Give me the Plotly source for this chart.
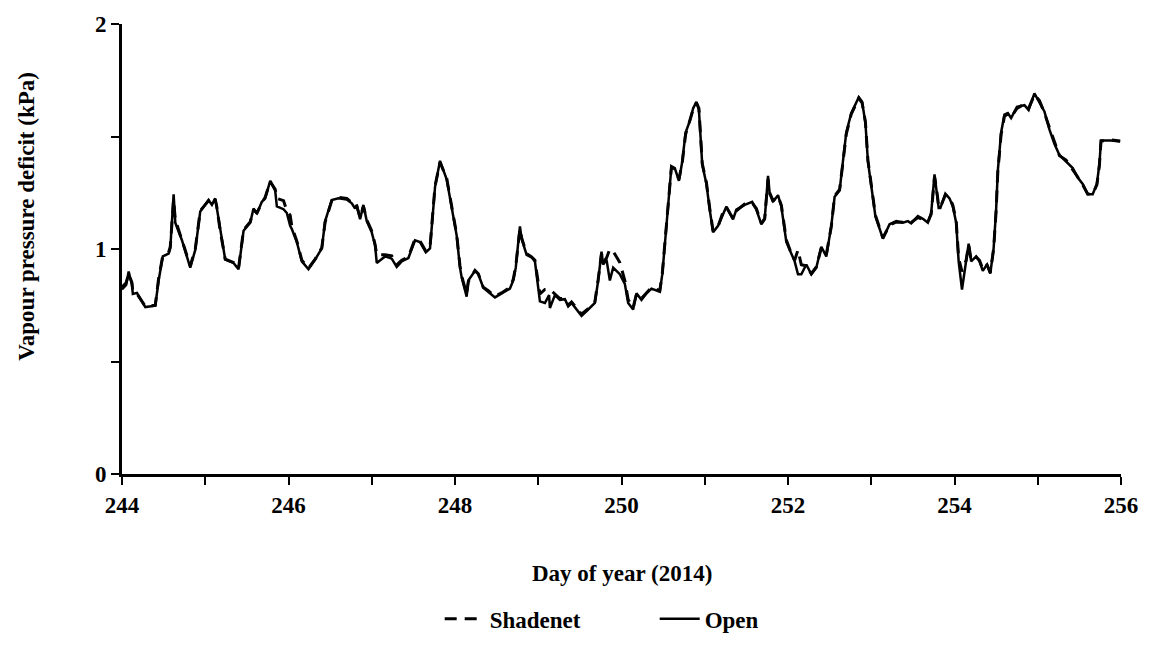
import plotly.graph_objects as go

# Day of year (2014)
days = [244.00, 244.05, 244.08, 244.12, 244.13, 244.18, 244.28, 244.40, 244.44, 244.49,
        244.56, 244.58, 244.62, 244.64, 244.72, 244.82, 244.88, 244.94, 245.04, 245.08,
        245.12, 245.14, 245.18, 245.24, 245.34, 245.40, 245.46, 245.54, 245.58, 245.62,
        245.68, 245.72, 245.78, 245.84, 245.86, 245.94, 245.98, 246.02, 246.04, 246.10,
        246.16, 246.24, 246.32, 246.40, 246.44, 246.52, 246.60, 246.70, 246.76, 246.80,
        246.82, 246.86, 246.90, 246.94, 247.00, 247.04, 247.06, 247.16, 247.24, 247.30,
        247.36, 247.44, 247.52, 247.58, 247.65, 247.70, 247.76, 247.82, 247.90, 247.98,
        248.02, 248.06, 248.08, 248.14, 248.16, 248.24, 248.28, 248.34, 248.40, 248.48,
        248.56, 248.66, 248.70, 248.73, 248.76, 248.78, 248.80, 248.86, 248.92, 248.96,
        249.02, 249.08, 249.13, 249.14, 249.20, 249.26, 249.32, 249.36, 249.40, 249.52,
        249.60, 249.68, 249.72, 249.76, 249.78, 249.82, 249.86, 249.90, 249.98, 250.04,
        250.08, 250.14, 250.18, 250.24, 250.30, 250.36, 250.46, 250.49, 250.53, 250.57,
        250.60, 250.64, 250.69, 250.73, 250.77, 250.82, 250.86, 250.90, 250.93, 250.97,
        251.02, 251.06, 251.10, 251.16, 251.22, 251.26, 251.34, 251.38, 251.48, 251.57,
        251.62, 251.68, 251.72, 251.76, 251.78, 251.82, 251.88, 251.92, 251.98, 252.04,
        252.08, 252.12, 252.16, 252.22, 252.28, 252.34, 252.40, 252.46, 252.52, 252.56,
        252.62, 252.66, 252.70, 252.76, 252.82, 252.85, 252.89, 252.93, 252.96, 253.00,
        253.05, 253.14, 253.22, 253.30, 253.38, 253.44, 253.48, 253.56, 253.62, 253.68,
        253.72, 253.76, 253.78, 253.81, 253.83, 253.89, 253.94, 253.98, 254.02, 254.05,
        254.09, 254.14, 254.17, 254.20, 254.26, 254.30, 254.34, 254.39, 254.43, 254.47,
        254.50, 254.52, 254.56, 254.60, 254.64, 254.68, 254.75, 254.84, 254.89, 254.96,
        255.02, 255.08, 255.14, 255.20, 255.26, 255.34, 255.42, 255.48, 255.54, 255.60,
        255.66, 255.71, 255.74, 255.76, 255.88, 255.99]

# Vapour pressure deficit (kPa) - open field
open_vpd = [0.82, 0.84, 0.90, 0.84, 0.80, 0.805, 0.742, 0.748, 0.86, 0.967,
            0.98, 1.003, 1.243, 1.117, 1.039, 0.917, 0.996, 1.167, 1.218, 1.196,
            1.225, 1.18, 1.074, 0.953, 0.938, 0.91, 1.081, 1.117, 1.18, 1.157,
            1.21, 1.225, 1.303, 1.26, 1.189, 1.177, 1.16, 1.103, 1.089, 1.031,
            0.945, 0.91, 0.953, 1.003, 1.124, 1.218, 1.225, 1.22, 1.203, 1.18,
            1.196, 1.132, 1.196, 1.124, 1.074, 1.017, 0.938, 0.967, 0.957, 0.92,
            0.945, 0.96, 1.039, 1.031, 0.986, 1.003, 1.275, 1.392, 1.31, 1.146,
            1.06, 0.917, 0.874, 0.788, 0.86, 0.903, 0.888, 0.828, 0.81, 0.785,
            0.803, 0.824, 0.86, 0.917, 1.031, 1.10, 1.046, 0.974, 0.963, 0.945,
            0.767, 0.76, 0.795, 0.738, 0.795, 0.774, 0.777, 0.745, 0.76, 0.703,
            0.731, 0.76, 0.86, 0.988, 0.931, 0.953, 0.86, 0.917, 0.888, 0.845,
            0.76, 0.731, 0.803, 0.774, 0.803, 0.824, 0.81, 0.888, 1.06, 1.232,
            1.368, 1.36, 1.303, 1.389, 1.518, 1.568, 1.625, 1.654, 1.618, 1.375,
            1.289, 1.175, 1.074, 1.103, 1.16, 1.189, 1.132, 1.175, 1.196, 1.21,
            1.175, 1.11, 1.132, 1.325, 1.246, 1.21, 1.239, 1.189, 1.031, 0.974,
            0.945, 0.888, 0.888, 0.931, 0.888, 0.917, 1.01, 0.967, 1.103, 1.232,
            1.26, 1.389, 1.518, 1.604, 1.647, 1.675, 1.654, 1.561, 1.389, 1.275,
            1.146, 1.046, 1.11, 1.124, 1.117, 1.124, 1.114, 1.146, 1.134, 1.117,
            1.16, 1.332, 1.275, 1.182, 1.182, 1.246, 1.225, 1.189, 1.117, 0.945,
            0.82, 0.945, 1.024, 0.945, 0.967, 0.945, 0.903, 0.931, 0.891, 1.003,
            1.175, 1.346, 1.518, 1.597, 1.604, 1.582, 1.632, 1.639, 1.618, 1.692,
            1.654, 1.611, 1.532, 1.468, 1.418, 1.389, 1.36, 1.318, 1.289, 1.243,
            1.243, 1.289, 1.375, 1.482, 1.482, 1.478]

# Vapour pressure deficit (kPa) - under shadenet
shadenet_vpd = [0.83, 0.85, 0.89, 0.85, 0.81, 0.80, 0.745, 0.75, 0.87, 0.97,
                0.985, 1.01, 1.22, 1.13, 1.04, 0.925, 1.00, 1.17, 1.215, 1.20,
                1.22, 1.185, 1.08, 0.955, 0.94, 0.915, 1.085, 1.12, 1.175, 1.16,
                1.205, 1.23, 1.30, 1.265, 1.225, 1.215, 1.17, 1.15, 1.10, 1.035,
                0.95, 0.915, 0.955, 1.005, 1.12, 1.215, 1.23, 1.225, 1.205, 1.185,
                1.19, 1.14, 1.19, 1.13, 1.08, 1.02, 0.975, 0.975, 0.97, 0.93,
                0.95, 0.965, 1.045, 1.035, 0.99, 1.01, 1.28, 1.385, 1.315, 1.15,
                1.065, 0.925, 0.88, 0.80, 0.855, 0.905, 0.89, 0.83, 0.815, 0.79,
                0.805, 0.83, 0.865, 0.925, 1.04, 1.09, 1.05, 0.98, 0.965, 0.95,
                0.80, 0.82, 0.82, 0.82, 0.80, 0.78, 0.78, 0.75, 0.765, 0.71,
                0.735, 0.765, 0.865, 0.98, 0.94, 0.96, 1.00, 0.99, 0.94, 0.86,
                0.775, 0.74, 0.80, 0.78, 0.805, 0.83, 0.815, 0.89, 1.065, 1.235,
                1.365, 1.355, 1.31, 1.385, 1.51, 1.57, 1.62, 1.65, 1.625, 1.38,
                1.295, 1.18, 1.08, 1.10, 1.165, 1.185, 1.135, 1.17, 1.20, 1.205,
                1.18, 1.115, 1.135, 1.31, 1.25, 1.215, 1.235, 1.195, 1.04, 0.98,
                0.95, 0.996, 0.93, 0.925, 0.89, 0.92, 1.005, 0.975, 1.10, 1.235,
                1.265, 1.385, 1.51, 1.60, 1.645, 1.67, 1.65, 1.565, 1.395, 1.28,
                1.15, 1.05, 1.105, 1.12, 1.12, 1.12, 1.118, 1.14, 1.13, 1.12,
                1.155, 1.32, 1.28, 1.19, 1.185, 1.24, 1.23, 1.195, 1.125, 0.96,
                0.90, 0.95, 1.02, 0.95, 0.965, 0.95, 0.91, 0.93, 0.895, 1.00,
                1.17, 1.34, 1.51, 1.59, 1.60, 1.585, 1.625, 1.645, 1.625, 1.685,
                1.66, 1.605, 1.54, 1.475, 1.415, 1.395, 1.355, 1.32, 1.285, 1.245,
                1.245, 1.285, 1.37, 1.48, 1.485, 1.48]

x_tickvals = [244, 245, 246, 247, 248, 249, 250, 251, 252, 253, 254, 255, 256]
x_ticktext = ["244", "", "246", "", "248", "", "250", "", "252", "", "254", "", "256"]
y_tickvals = [0, 0.5, 1, 1.5, 2]
y_ticktext = ["0", "", "1", "", "2"]

FONT = "Liberation Serif"

fig = go.Figure()
fig.add_trace(go.Scatter(
    x=days, y=open_vpd, mode="lines", name="<b>Open</b>",
    line=dict(color="black", width=2.5), legendrank=2))
fig.add_trace(go.Scatter(
    x=days, y=shadenet_vpd, mode="lines", name="<b>Shadenet</b>",
    line=dict(color="black", width=3, dash="12px,8px"), legendrank=1))

fig.update_layout(
    width=1150, height=653,
    margin=dict(l=122, r=28, t=20, b=166),
    paper_bgcolor="white", plot_bgcolor="white",
    font=dict(family=FONT, size=23, color="black"),
    showlegend=True,
    legend=dict(orientation="h", x=0.318, xanchor="left", y=-0.322, yanchor="middle",
                font=dict(family=FONT, size=23, color="black"),
                entrywidth=160, entrywidthmode="pixels", itemwidth=40,
                bgcolor="rgba(0,0,0,0)"),
    xaxis=dict(range=[244, 256], tickvals=x_tickvals, ticktext=x_ticktext,
               showline=True, linecolor="black", linewidth=3, mirror=False,
               ticks="outside", ticklen=8, tickwidth=2, tickcolor="black",
               showgrid=False, zeroline=False,
               tickfont=dict(family=FONT, size=23, color="black", weight="bold")),
    yaxis=dict(range=[0, 2], tickvals=y_tickvals, ticktext=y_ticktext,
               showline=True, linecolor="black", linewidth=3,
               ticks="outside", ticklen=8, tickwidth=2, tickcolor="black",
               showgrid=False, zeroline=False,
               tickfont=dict(family=FONT, size=23, color="black", weight="bold")),
    annotations=[
        dict(text="<b>Day of year (2014)</b>", xref="paper", yref="paper",
             x=0.5, y=-0.222, xanchor="center", yanchor="middle", showarrow=False,
             font=dict(family=FONT, size=23, color="black")),
        dict(text="<b>Vapour pressure deficit (kPa)</b>", xref="paper", yref="paper",
             x=-0.095, y=0.572, xanchor="center", yanchor="middle", showarrow=False,
             textangle=-90, font=dict(family=FONT, size=23, color="black")),
    ],
)

fig.write_html("out.html", config={"displayModeBar": False},
               post_script="document.body.style.margin='0px';")
